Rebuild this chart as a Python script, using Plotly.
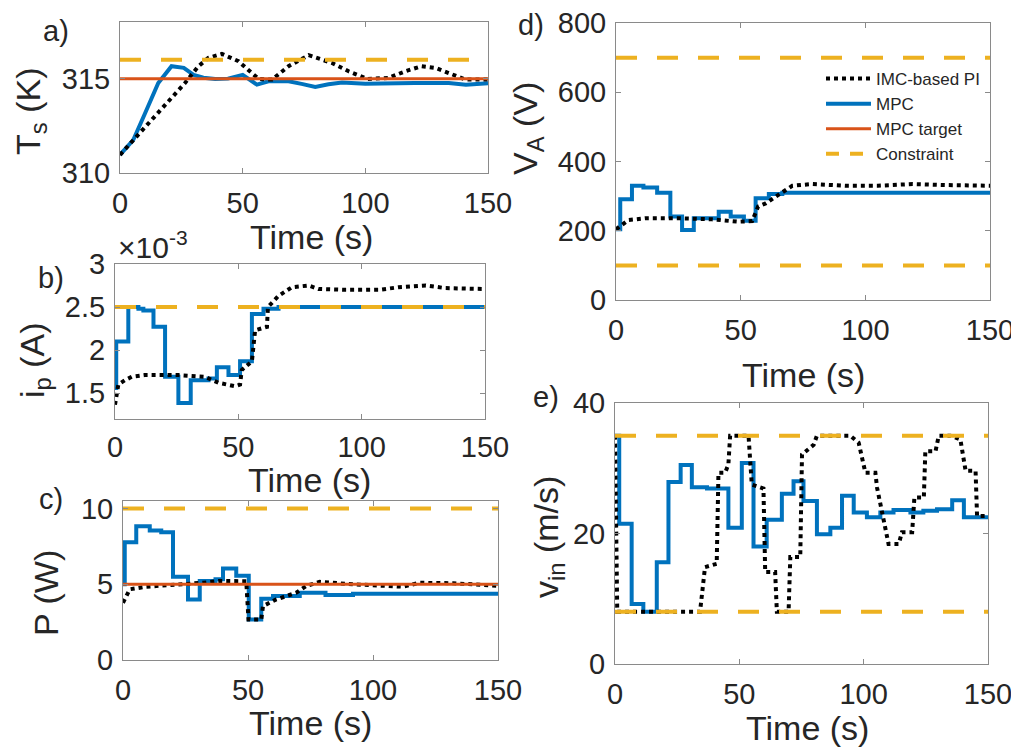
import plotly.graph_objects as go

# ---------------- data ----------------
# a) surface temperature
t_a_mpc = [0, 5.4, 10, 15.6, 21, 26, 30, 34, 38.8, 44, 50, 55.8, 60.5, 68.7, 74, 79.6, 85, 90.5, 100, 110, 120, 134, 141, 150]
Ts_mpc = [310.96, 311.75, 313.1, 314.77, 315.66, 315.57, 315.2, 315.05, 314.98, 315.0, 315.2, 314.68, 314.86, 314.86,
          314.72, 314.56, 314.7, 314.8, 314.73, 314.76, 314.77, 314.77, 314.68, 314.75]
t_a_pi = [0, 6, 17, 26.5, 32, 36, 41.5, 48.3, 56.5, 62, 68.7, 76.9, 86.4, 93.2, 101, 109.5, 116.3, 123, 128.6, 134, 140.8, 150]
Ts_pi = [310.96, 311.84, 313.44, 314.77, 315.66, 316.1, 316.31, 315.92, 314.98, 314.95, 315.66, 316.24, 315.83, 315.39,
         314.98, 315.04, 315.39, 315.66, 315.57, 315.3, 314.95, 314.95]
Ts_target = 315
Ts_con = 316

# b) plasma current (x1e-3 A)
t_b_mpc = [0, 0.5, 5.4, 9.5, 11.5, 15.6, 20.3, 25.7, 30.7, 37.9, 41.3, 46, 50.7, 55.5, 60.2, 66.3, 150]
ip_mpc = [1.56, 2.10, 2.50, 2.48, 2.46, 2.27, 1.69, 1.385, 1.65, 1.67, 1.80, 1.71, 1.87, 2.42, 2.48, 2.50, 2.50]
t_b_pi = [0, 1.35, 4, 6.8, 12, 25.7, 36.5, 42, 48.7, 50.7, 51.4, 55.5, 56.8, 61.6, 62, 66.3, 71.7, 78.5, 82.5, 93.4,
          107, 115, 126, 134, 150]
ip_pi = [1.365, 1.60, 1.65, 1.69, 1.71, 1.71, 1.69, 1.62, 1.58, 1.60, 1.77, 1.87, 2.23, 2.27, 2.5, 2.63, 2.73, 2.75,
         2.71, 2.70, 2.70, 2.73, 2.75, 2.72, 2.71]
ip_con = 2.5

# c) power
t_c_mpc = [0, 0.7, 5.3, 10.7, 15.3, 20, 26, 30.7, 37, 40, 45.3, 50.3, 55.3, 60, 70.7, 81, 92, 150]
P_mpc = [5.0, 7.78, 8.84, 8.56, 8.44, 5.5, 4.0, 5.22, 5.33, 6.04, 5.56, 2.67, 4.04, 4.22, 4.44, 4.3, 4.38, 4.38]
t_c_pi = [0, 2.7, 9.3, 18.7, 32, 38.7, 49.3, 50.2, 55.3, 56, 61.3, 69.3, 73.3, 78.7, 92, 112, 118.7, 132, 150]
P_pi = [3.78, 4.67, 4.84, 4.93, 5.1, 5.22, 5.2, 2.67, 2.67, 3.56, 4.0, 4.44, 4.89, 5.16, 5.0, 4.84, 5.1, 5.07, 4.9]
P_target = 5
P_con = 10

# d) applied voltage
t_d_mpc = [0, 1.7, 6.4, 11, 16.5, 21.8, 26.5, 31.2, 41.2, 46, 51.3, 56, 61.3, 66.7, 150]
VA_mpc = [204, 291, 330, 325, 310, 241, 202, 236, 255, 241, 229, 294, 306, 310, 308]
t_d_pi = [0, 5, 11.8, 25, 38.5, 49, 54.6, 57, 60, 65, 70.7, 78.7, 92, 105, 119, 132, 150]
VA_pi = [204, 231, 236, 236, 233, 226, 228, 270, 279, 303, 330, 335, 330, 330, 335, 332, 330]
VA_con = [100, 700]

# e) inlet velocity
t_e_mpc = [0, 1.7, 6.7, 11.4, 16.8, 21.5, 26.4, 30.9, 37, 45.6, 51, 55.7, 61, 67.1, 71.8, 75.8, 81.2, 86.6, 91.3,
           96, 101.3, 106.7, 112, 118.8, 124, 129.5, 135.6, 140.3, 150]
vin_mpc = [35, 21.5, 9.2, 8.0, 15.6, 27.9, 30.5, 27.1, 26.9, 20.9, 30.8, 18.0, 22.1, 26.1, 28.0, 25.0, 19.9, 20.9,
           25.8, 23.2, 22.5, 23.2, 23.6, 23.2, 23.5, 23.7, 25.1, 22.5, 22.5]
t_e_pi = [0, 0.9, 34.2, 36.2, 40.9, 41.6, 44.3, 45.6, 46.3, 53.7, 55.0, 59.7, 60.4, 64.4, 65.1, 69.8, 70.5, 74.5,
          75.2, 79.9, 81.2, 94.6, 98, 100.7, 104.7, 105.4, 110, 114.1, 115.4, 119.5, 120.4, 124.2, 124.8, 128.9,
          130.2, 134.9, 138.9, 141, 145, 145.6, 150]
vin_pi = [35, 8, 8, 14.85, 15.35, 29.3, 29.3, 30.6, 35, 35, 27.5, 26.9, 14.1, 14.1, 8, 8, 16.4, 16.4,
          32.1, 33.6, 35, 35, 33.9, 29.3, 29.3, 27, 18.4, 18.4, 20.2, 20.2, 25.5, 25.5, 32.6, 32.6,
          35, 35, 34.4, 29.6, 29.6, 22.7, 22.7]
vin_con = [8, 35]

t_span = [0, 150]

# ---------------- styles ----------------
BLUE = "#0072BD"
RED = "#D95319"
ORANGE = "#EDB120"
FONT = "Liberation Sans, Arial, sans-serif"
TXT = "#262626"
PAGE_OFF = 8            # default body margin of the html page
W, H = 1019 - PAGE_OFF, 749 - PAGE_OFF

fig = go.Figure()


def add_panel(k, t_m, y_m, t_p, y_p, target=None, cons=(), m_shape="hv"):
    xa = "x" if k == 1 else f"x{k}"
    ya = "y" if k == 1 else f"y{k}"
    fig.add_trace(go.Scatter(x=t_m, y=y_m, mode="lines", name="MPC", line=dict(color=BLUE, width=4, shape=m_shape),
                             xaxis=xa, yaxis=ya, showlegend=False))
    fig.add_trace(go.Scatter(x=t_p, y=y_p, mode="lines", name="IMC-based PI",
                             line=dict(color="black", width=4, dash="4px,4px"),
                             xaxis=xa, yaxis=ya, showlegend=False))
    if target is not None:
        fig.add_trace(go.Scatter(x=t_span, y=[target, target], mode="lines", name="MPC target",
                                 line=dict(color=RED, width=3), xaxis=xa, yaxis=ya, showlegend=False))
    for c in cons:
        fig.add_trace(go.Scatter(x=t_span, y=[c, c], mode="lines", name="Constraint",
                                 line=dict(color=ORANGE, width=4, dash="21px,20px"), xaxis=xa, yaxis=ya,
                                 showlegend=False))


add_panel(1, t_a_mpc, Ts_mpc, t_a_pi, Ts_pi, target=Ts_target, cons=[Ts_con], m_shape="linear")
add_panel(2, t_b_mpc, [v * 1e-3 for v in ip_mpc], t_b_pi, [v * 1e-3 for v in ip_pi], cons=[ip_con * 1e-3])
add_panel(3, t_c_mpc, P_mpc, t_c_pi, P_pi, target=P_target, cons=[P_con])
add_panel(4, t_d_mpc, VA_mpc, t_d_pi, VA_pi, cons=VA_con)
add_panel(5, t_e_mpc, vin_mpc, t_e_pi, vin_pi, cons=vin_con)

# legend entries (shown in panel d)
for nm, ln, rk in [("IMC-based PI", dict(color="black", width=4, dash="4px,4px"), 1),
                   ("MPC", dict(color=BLUE, width=4), 2),
                   ("MPC target", dict(color=RED, width=3), 3),
                   ("Constraint", dict(color=ORANGE, width=4, dash="13px,11px"), 4)]:
    fig.add_trace(go.Scatter(x=[None], y=[None], mode="lines", name=nm, line=ln, xaxis="x4", yaxis="y4",
                             showlegend=True, legendrank=rk))


def px_x(px):
    return (px - PAGE_OFF) / W


def px_y(py):
    return 1 - (py - PAGE_OFF) / H


# plot areas in page pixels: (left, right, top, bottom)
boxes = {
    1: (120, 488, 22, 173),
    2: (115, 485, 264, 419),
    3: (123, 498, 501, 660),
    4: (616, 990, 23, 300),
    5: (615, 988, 403, 664),
}
yranges = {1: [310, 318], 2: [1.2e-3, 3.0e-3], 3: [0, 10.5], 4: [0, 800], 5: [0, 40]}
ytickvals = {1: [310, 315], 2: [1.5e-3, 2e-3, 2.5e-3, 3e-3], 3: [0, 5, 10], 4: [0, 200, 400, 600, 800], 5: [0, 20, 40]}
yticktext = {1: ["310", "315"], 2: ["1.5", "2", "2.5", "3"], 3: ["0", "5", "10"],
             4: ["0", "200", "400", "600", "800"], 5: ["0", "20", "40"]}

axis_common = dict(showgrid=False, zeroline=False, showline=True, linecolor="#8a8a8a", linewidth=1,
                   mirror="ticks", ticks="inside", ticklen=5, tickcolor="#8a8a8a", automargin=False,
                   ticklabeloverflow="allow",
                   tickfont=dict(family=FONT, size=29, color=TXT))

lay = {}
for k, (l, r, t, b) in boxes.items():
    xn = "xaxis" if k == 1 else f"xaxis{k}"
    yn = "yaxis" if k == 1 else f"yaxis{k}"
    xa = "x" if k == 1 else f"x{k}"
    ya = "y" if k == 1 else f"y{k}"
    lay[xn] = dict(domain=[px_x(l), px_x(r)], range=[0, 150], tickvals=[0, 50, 100, 150],
                   anchor=ya, ticklabelstandoff=2 if k == 2 else 4, **axis_common)
    lay[yn] = dict(domain=[px_y(b), px_y(t)], range=yranges[k], tickvals=ytickvals[k],
                   ticktext=yticktext[k], anchor=xa, ticklabelstandoff=3, **axis_common)

fig.update_layout(**lay)

ann = []


def text(x, y, s, size=34, angle=0, xanchor="center"):
    ann.append(dict(x=px_x(x), y=px_y(y), xref="paper", yref="paper", text=s, showarrow=False,
                    font=dict(family=FONT, size=size, color=TXT), textangle=angle,
                    xanchor=xanchor, yanchor="middle"))


# x titles
text(311, 237, "Time (s)")
text(309, 480, "Time (s)")
text(310, 723, "Time (s)")
text(803, 375, "Time (s)")
text(807, 728, "Time (s)")
# y titles
text(30, 112, "T<sub>s</sub> (K)", angle=-90)
text(34, 360, "i<sub>p</sub> (A)", angle=-90)
text(46, 593, "P (W)", angle=-90)
text(528, 129, "V<sub>A</sub> (V)", angle=-90)
text(548, 537, "v<sub>in</sub> (m/s)", angle=-90)
# panel letters
text(56, 31, "a)", size=29)
text(51, 278, "b)", size=29)
text(51, 499, "c)", size=29)
text(531, 25, "d)", size=29)
text(546, 397, "e)", size=29)
# exponent
text(116, 245, "×10<sup>-3</sup>", size=30, xanchor="left")

fig.update_layout(
    width=W, height=H, margin=dict(l=0, r=0, t=0, b=0, autoexpand=False),
    paper_bgcolor="white", plot_bgcolor="white",
    annotations=ann,
    legend=dict(x=px_x(985), y=px_y(61), xanchor="right", yanchor="top", bgcolor="rgba(0,0,0,0)",
                font=dict(family=FONT, size=17, color=TXT), tracegroupgap=0, itemwidth=45),
    font=dict(family=FONT, color=TXT),
)

fig.write_html("out.html")
